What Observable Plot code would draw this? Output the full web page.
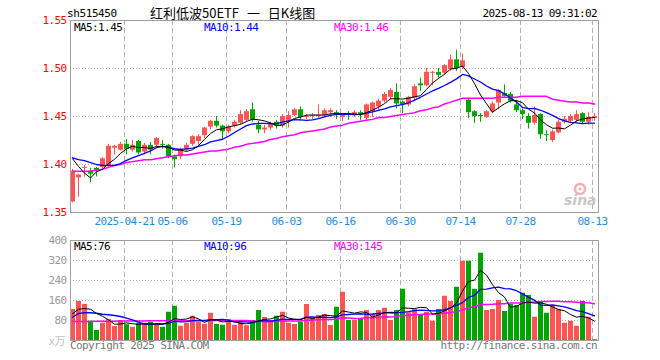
<!DOCTYPE html>
<html><head><meta charset="utf-8">
<script src="https://cdn.jsdelivr.net/npm/d3@7"></script>
<script src="https://cdn.jsdelivr.net/npm/@observablehq/plot@0.6"></script>
<style>
body{margin:0;background:#fff;}
#wrap{position:relative;width:660px;height:360px;overflow:hidden;background:#fff;}
.t{position:absolute;white-space:pre;font-family:"DejaVu Sans Mono",monospace;font-size:11px;line-height:11px;letter-spacing:-0.6px;color:#000;}
.cjk{font-family:"Noto Sans CJK SC",sans-serif;font-size:13px;line-height:16px;letter-spacing:0;word-spacing:5px;}
#price,#vol{position:absolute;left:0;}
</style></head>
<body>
<div id="wrap">
  <div id="price" style="top:0"></div>
  <div id="vol" style="top:230px"></div>
</div>
<script>
// ---- data ----
const symbol = "sh515450";
const title = "红利低波50ETF 一 日K线图";
const stamp = "2025-08-13 09:31:02";
const tickIndex  = [9, 17, 26, 36, 45, 55, 65, 75, 87];
const tickLabels = ["2025-04-21","05-06","05-19","06-03","06-16","06-30","07-14","07-28","08-13"];
const priceTicks = [1.35, 1.40, 1.45, 1.50, 1.55];
const priceGrid  = [1.40, 1.45, 1.50];
const volTicks   = [80, 160, 240, 320, 400];
const volGrid    = [80, 160, 240, 320];
const priceLegend = ["MA5:1.45", "MA10:1.44", "MA30:1.46"];
const volLegend   = ["MA5:76", "MA10:96", "MA30:145"];

const opens = [1.361,1.386,1.396,1.393,1.396,1.397,1.398,1.417,1.415,1.421,
 1.415,1.424,1.413,1.420,1.420,1.421,1.420,1.408,1.408,1.415,
 1.421,1.424,1.430,1.439,1.445,1.440,1.434,1.440,1.443,1.446,
 1.457,1.441,1.436,1.438,1.444,1.440,1.445,1.451,1.457,1.449,
 1.450,1.450,1.451,1.454,1.454,1.449,1.452,1.451,1.454,1.448,
 1.455,1.460,1.466,1.470,1.475,1.465,1.462,1.469,1.484,1.482,
 1.495,1.496,1.495,1.499,1.509,1.501,1.467,1.455,1.451,1.449,
 1.455,1.464,1.474,1.473,1.462,1.456,1.450,1.443,1.452,1.431,
 1.425,1.433,1.444,1.445,1.446,1.453,1.444,1.448];
const closes = [1.393,1.389,1.397,1.390,1.393,1.406,1.419,1.419,1.421,1.416,
 1.420,1.412,1.420,1.415,1.427,1.420,1.408,1.405,1.415,1.420,
 1.429,1.429,1.438,1.445,1.440,1.434,1.439,1.444,1.452,1.455,
 1.446,1.436,1.438,1.442,1.440,1.450,1.451,1.457,1.449,1.450,
 1.451,1.451,1.456,1.456,1.451,1.451,1.451,1.454,1.452,1.462,
 1.464,1.466,1.473,1.477,1.463,1.462,1.470,1.481,1.482,1.496,
 1.496,1.493,1.503,1.509,1.500,1.508,1.454,1.450,1.450,1.455,
 1.463,1.477,1.471,1.466,1.456,1.452,1.443,1.451,1.431,1.430,
 1.434,1.444,1.447,1.450,1.452,1.444,1.449,1.450];
const highs = [1.395,1.390,1.399,1.396,1.397,1.407,1.421,1.420,1.423,1.426,
 1.425,1.425,1.422,1.423,1.428,1.425,1.421,1.410,1.417,1.422,
 1.430,1.431,1.439,1.446,1.450,1.441,1.441,1.446,1.456,1.457,
 1.464,1.445,1.441,1.444,1.446,1.452,1.455,1.458,1.460,1.452,
 1.453,1.462,1.458,1.458,1.456,1.452,1.455,1.456,1.456,1.463,
 1.465,1.468,1.475,1.479,1.484,1.466,1.471,1.483,1.490,1.500,
 1.497,1.500,1.504,1.514,1.519,1.515,1.468,1.456,1.453,1.456,
 1.465,1.478,1.483,1.475,1.467,1.458,1.453,1.460,1.453,1.435,
 1.436,1.446,1.450,1.452,1.456,1.454,1.454,1.453];
const lows = [1.360,1.366,1.387,1.381,1.387,1.395,1.397,1.410,1.414,1.410,
 1.413,1.410,1.410,1.410,1.417,1.416,1.406,1.3965,1.405,1.413,
 1.419,1.420,1.427,1.436,1.438,1.425,1.432,1.438,1.441,1.444,
 1.444,1.432,1.432,1.435,1.437,1.438,1.438,1.450,1.445,1.447,
 1.447,1.448,1.449,1.449,1.447,1.445,1.446,1.449,1.446,1.446,
 1.449,1.456,1.464,1.467,1.458,1.453,1.460,1.467,1.476,1.481,
 1.482,1.490,1.493,1.497,1.497,1.499,1.448,1.443,1.444,1.448,
 1.453,1.457,1.470,1.464,1.454,1.447,1.437,1.441,1.426,1.424,
 1.423,1.432,1.442,1.443,1.444,1.442,1.441,1.445];
const volumes = [124,156,144,77,40,69,84,56,80,63,
 53,69,69,73,60,53,113,137,57,69,
 97,73,65,109,64,61,83,61,71,59,
 80,120,92,80,97,113,69,64,73,144,
 89,100,104,60,133,193,80,80,87,120,
 103,120,129,80,120,205,111,124,103,113,
 77,124,177,156,213,317,317,205,349,120,
 124,160,116,144,140,189,180,93,153,109,
 140,124,69,77,57,156,93,4];

const ma5 = [1.406,1.398,1.391,1.386,1.3924,1.395,1.401,1.4054,1.4116,1.4162,
 1.419,1.4176,1.4178,1.4166,1.4188,1.4188,1.418,1.415,1.415,1.4136,
 1.4154,1.4196,1.4262,1.4322,1.4362,1.4372,1.4392,1.4404,1.4418,1.4448,
 1.4472,1.4466,1.4454,1.4434,1.4404,1.4412,1.4442,1.448,1.4494,1.4514,
 1.4516,1.4516,1.4514,1.4528,1.453,1.453,1.453,1.4526,1.4518,1.454,
 1.4566,1.4596,1.4634,1.4684,1.4686,1.4682,1.469,1.4706,1.4716,1.4782,
 1.485,1.4896,1.494,1.4994,1.5002,1.5026,1.4948,1.4842,1.4724,1.4634,
 1.4544,1.459,1.4632,1.4664,1.4666,1.4644,1.4576,1.4536,1.4466,1.4414,
 1.4378,1.438,1.4372,1.441,1.4454,1.4474,1.4484,1.449];
const ma10 = [1.407,1.405,1.404,1.402,1.400,1.399,1.399,1.399,1.401,1.4043,
 1.407,1.4093,1.4116,1.4141,1.4175,1.4189,1.4178,1.4164,1.4158,1.4162,
 1.4171,1.4188,1.4206,1.4236,1.4249,1.4263,1.4294,1.4333,1.437,1.4405,
 1.4422,1.4429,1.4429,1.4426,1.4426,1.4442,1.4454,1.4467,1.4464,1.4459,
 1.4464,1.4479,1.4497,1.4511,1.4522,1.4523,1.4523,1.452,1.4523,1.4535,
 1.4548,1.4563,1.458,1.4601,1.4613,1.4624,1.4643,1.467,1.470,1.4734,
 1.4766,1.4793,1.4823,1.4855,1.4892,1.4938,1.4922,1.4891,1.4859,1.4818,
 1.4785,1.4769,1.4737,1.4694,1.465,1.4594,1.4583,1.4584,1.4565,1.454,
 1.4511,1.4478,1.4454,1.4438,1.4434,1.4426,1.4432,1.4431];
const ma30 = [1.393,1.393,1.393,1.393,1.394,1.395,1.397,1.399,1.400,1.402,
 1.403,1.404,1.405,1.405,1.406,1.407,1.408,1.409,1.410,1.410,
 1.411,1.412,1.413,1.414,1.414,1.415,1.416,1.418,1.419,1.421,
 1.422,1.423,1.424,1.426,1.427,1.429,1.430,1.431,1.433,1.434,
 1.435,1.436,1.437,1.439,1.440,1.441,1.443,1.444,1.445,1.446,
 1.447,1.449,1.449,1.450,1.451,1.452,1.453,1.454,1.456,1.457,
 1.459,1.460,1.463,1.465,1.467,1.469,1.469,1.469,1.469,1.469,
 1.469,1.470,1.470,1.470,1.470,1.471,1.471,1.471,1.471,1.471,
 1.468,1.467,1.466,1.465,1.465,1.464,1.464,1.463];
const vma5 = [107,125,128,125,108.2,97.2,82.8,65.2,65.8,70.4,
 67.2,64.2,66.8,65.4,64.8,64.8,73.6,87.2,84,85.8,
 94.6,86.6,72.2,82.6,81.6,74.4,76.4,75.6,68,67,
 70.8,78.2,84.4,86.2,93.8,100.4,90.2,84.6,83.2,92.6,
 87.8,94,102,99.4,97.2,118,114,109.2,114.6,112,
 94,102,111.8,110.4,110.4,130.8,129,128,132.6,131.2,
 105.6,108.2,118.8,129.4,149.4,197.4,236,241.6,280.2,261.6,
 223,191.6,173.8,132.8,136.8,149.8,153.8,149.2,151,144.8,
 135,123.8,119,103.8,93.4,96.6,90.4,77.4];
const vma10 = [93,108,111,111,109,105,103,100,96,89.3,
 82.2,73.5,66,65.6,67.6,66,68.9,77,74.7,75.3,
 79.7,80.1,79.7,83.3,83.7,84.5,81.5,73.9,75.3,74.3,
 72.6,77.3,80,77.1,80.4,85.6,84.2,84.5,84.7,93.2,
 94.1,92.1,93.3,91.3,94.9,102.9,104,105.6,107,104.6,
 106,108,110.5,112.5,111.2,112.4,115.5,119.9,121.5,120.8,
 118.2,118.6,123.4,131,140.3,151.5,172.1,180.2,204.8,205.5,
 210.2,213.8,207.7,206.5,199.2,186.4,172.7,161.5,141.9,140.8,
 142.4,138.8,134.1,127.4,119.1,115.8,107.1,98.2];
const vma30 = [76,76,76,76,77,77,77,77,78,78,
 78,78,78,79,79,79,79,79,79,79,
 79,80,80,80,80,80,80,80,80,79.6,
 78.2,77,75.2,75.3,77.2,78.7,78.2,78.5,78.2,80.9,
 82.1,83.2,84.3,83.9,86.3,91,89.9,88,89,90.7,
 90.9,92.5,94.6,93.6,95.5,100.3,101.2,103.3,104.4,106.2,
 106.1,106.2,109.1,111.6,115.5,122.3,130.5,135.2,144.4,143.6,
 144.8,146.8,147.2,150,150.2,150.1,153.4,153.9,156.1,155.7,
 156.9,157.1,155.1,155,152.9,151.2,150.6,146.6];

// ---- drawing ----
const n = closes.length;
const idx = d3.range(n);
const RED = "#ff5454", GREEN = "#00a400";
const candleColor = i => closes[i] >= opens[i] ? RED : GREEN;
const GRID = "#b0b0b0";
const svgStyle = {fontFamily: '"DejaVu Sans Mono", monospace', fontSize: "11px", letterSpacing: "-0.6px", background: "transparent", overflow: "visible"};
const xScale = {type: "band", domain: idx, paddingInner: 0, paddingOuter: 0};

const maLine = (arr, color, w) => Plot.line(arr, {x: (d, i) => i, y: d => d, stroke: color, strokeWidth: w, dx: -1});

const price = Plot.plot({
  width: 660, height: 232, marginLeft: 70, marginRight: 62, marginTop: 20, marginBottom: 20,
  style: svgStyle,
  x: xScale,
  y: {domain: [1.35, 1.55]},
  color: {type: "identity"},
  marks: [
    Plot.ruleY(priceGrid, {stroke: GRID, strokeDasharray: "1,2"}),
    Plot.ruleX(tickIndex, {x: d => d, dx: -3, stroke: GRID, strokeDasharray: "5,3"}),
    Plot.ruleX(idx, {x: i => i, y1: i => lows[i], y2: i => highs[i], stroke: candleColor, dx: -1}),
    Plot.barY(idx, {x: i => i, y1: i => opens[i], y2: i => closes[i], fill: candleColor, insetLeft: 0, insetRight: 1}),
    maLine(ma30, "#ff00ff", 1.5),
    maLine(ma10, "#0000ff", 1.3),
    maLine(ma5, "#000000", 1),
    Plot.frame({stroke: "#a0a0a0"}),
    Plot.axisY({ticks: priceTicks, tickSize: 0, tickPadding: 4, tickFormat: d3.format(".2f"), fill: "#ff0000"}),
    Plot.axisX({ticks: tickIndex, tickSize: 0, tickPadding: 5, dx: -3, fill: "#1e8fe0",
      tickFormat: i => tickLabels[tickIndex.indexOf(i)]})
  ]
});
document.getElementById("price").appendChild(price);

const vol = Plot.plot({
  width: 660, height: 130, marginLeft: 70, marginRight: 62, marginTop: 10, marginBottom: 20,
  style: svgStyle,
  x: {...xScale, axis: null},
  y: {domain: [0, 400]},
  color: {type: "identity"},
  marks: [
    Plot.ruleY(volGrid, {stroke: GRID, strokeDasharray: "1,2"}),
    Plot.ruleX(tickIndex, {x: d => d, dx: -3, stroke: GRID, strokeDasharray: "5,3"}),
    Plot.barY(idx, {x: i => i, y: i => volumes[i], fill: candleColor, insetLeft: 0, insetRight: 1}),
    maLine(vma30, "#ff00ff", 1.5),
    maLine(vma10, "#0000ff", 1.3),
    maLine(vma5, "#000000", 1),
    Plot.frame({stroke: "#a0a0a0"}),
    Plot.axisY({ticks: volTicks, tickSize: 0, tickPadding: 4, fill: "#999999"})
  ]
});
document.getElementById("vol").appendChild(vol);

// ---- text overlays ----
const wrap = document.getElementById("wrap");
function addText(txt, css, cls = "t") {
  const d = document.createElement("div");
  d.className = cls;
  d.textContent = txt;
  Object.assign(d.style, css);
  wrap.appendChild(d);
  return d;
}
addText(symbol, {left: "67px", top: "8px", letterSpacing: "-0.4px"});
addText(title, {left: "150px", top: "5px"}, "t cjk");
addText(stamp, {right: "63px", top: "8px"});
const legendColors = ["#000000", "#0000ff", "#ff00ff"];
const legendLeft = [74, 204, 334];
priceLegend.forEach((s, k) => addText(s, {left: legendLeft[k] + "px", top: "22px", color: legendColors[k]}));
volLegend.forEach((s, k) => addText(s, {left: legendLeft[k] + "px", top: "241px", color: legendColors[k]}));
addText("x万", {left: "49px", top: "335px", color: "#c0c0c0", fontFamily: '"Noto Sans CJK SC",sans-serif', letterSpacing: "0"});
addText("Copyright 2025 SINA.COM", {left: "70px", top: "340px", color: "#777"});
addText("http://finance.sina.com.cn", {right: "63px", top: "340px", color: "#777"});

// sina watermark
const logo = document.createElement("div");
logo.style.cssText = "position:absolute;left:562px;top:180px;width:38px;height:28px;";
logo.innerHTML = '<svg width="38" height="28" xmlns="http://www.w3.org/2000/svg">' +
  '<circle cx="18" cy="9" r="5" fill="none" stroke="#f3b0b0" stroke-width="2.5"/>' +
  '<circle cx="18" cy="9" r="1.6" fill="#f3b0b0"/>' +
  '<text x="2" y="25" font-family="DejaVu Sans" font-style="italic" font-weight="bold" font-size="14" fill="#c8c8c8">sina</text></svg>';
wrap.appendChild(logo);
</script>
</body></html>
